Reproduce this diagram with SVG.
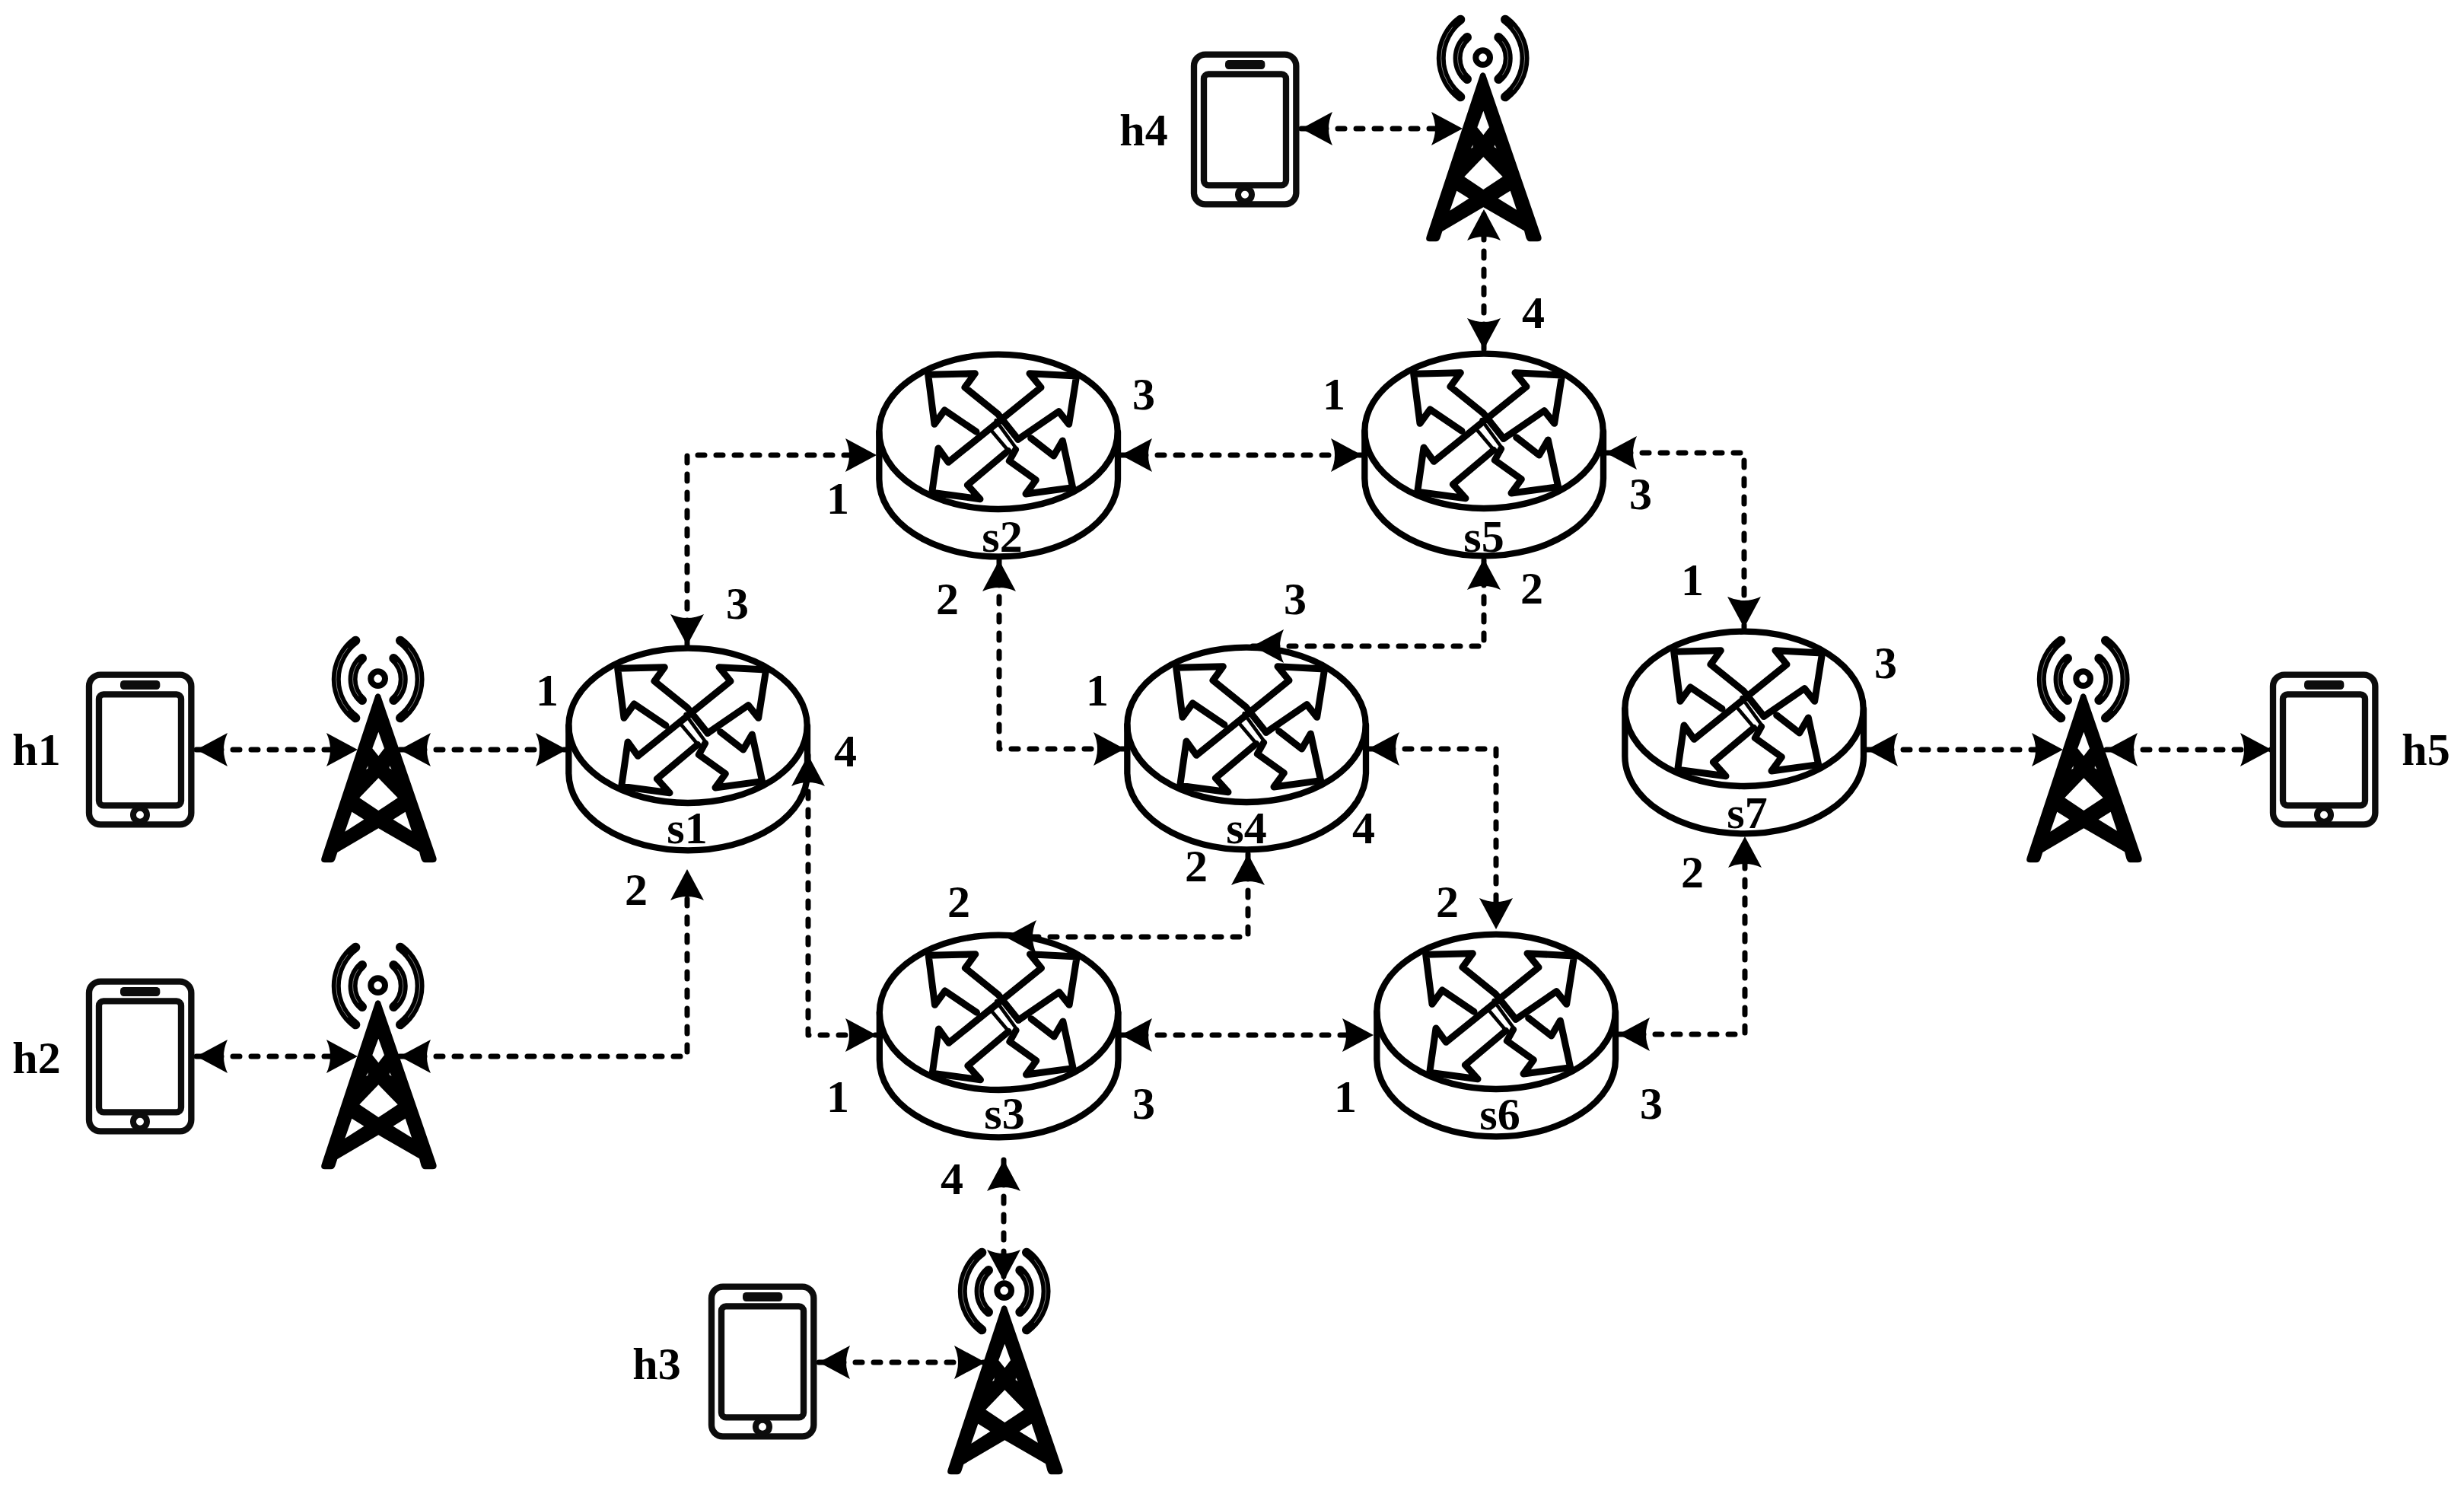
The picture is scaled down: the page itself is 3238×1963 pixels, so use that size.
<svg xmlns="http://www.w3.org/2000/svg" width="3238" height="1963" viewBox="0 0 3238 1963">
<style>
.lb{font-family:"Liberation Serif","Times New Roman",serif;font-weight:bold;font-size:60px;fill:#000;text-anchor:middle}
.cn{fill:none;stroke:#000;stroke-width:7;stroke-linecap:round;stroke-linejoin:round;stroke-dasharray:9 15;marker-start:url(#ah);marker-end:url(#ah)}
.r{fill:none;stroke:#000;stroke-width:25;stroke-linejoin:round;stroke-linecap:round}
.a{stroke-width:27}
.w{fill:none;stroke:#fff;stroke-width:1.5;stroke-dasharray:0 12 76 100}
</style>
<defs>
<marker id="ah" markerUnits="userSpaceOnUse" markerWidth="44" markerHeight="48" refX="41" refY="22" orient="auto-start-reverse" overflow="visible">
<path d="M41 22L0 0Q10 22 0 44Z" fill="#000"/>
</marker>
<g id="router" transform="translate(700 820) scale(.33333)">
<path class="r" d="M142 400V587A470 305 0 0 0 1083 587V400"/>
<ellipse class="r" cx="612" cy="400" rx="470" ry="305"/>
<path class="r a" d="M525 400L400 315L360 370L335 175L520 170L480 225L610 330L690 430"/>
<path class="r a" d="M740 425L830 495L865 435L905 620L720 645L760 590L655 515L680 470"/>
<path class="r a" d="M780 225L735 170L920 180L890 370L850 320L690 430M650 475L490 610L540 665L350 640L375 465L415 520L780 225"/>
<path class="r" style="stroke-width:14" d="M578 388L656 480M602 355L682 465"/>
</g>
<g id="tower" transform="translate(380 810) scale(.33333)">
<circle cx="350" cy="245" r="28" fill="none" stroke="#000" stroke-width="24"/>
<g fill="none" stroke="#000" stroke-linecap="round" stroke-width="36">
<path d="M288 165A110 110 0 0 0 288 330M412 165A110 110 0 0 1 412 330"/>
<path d="M262 95A190 190 0 0 0 262 400M438 95A190 190 0 0 1 438 400"/>
</g>
<path class="w" pathLength="100" d="M288 165A110 110 0 0 0 288 330"/>
<path class="w" pathLength="100" d="M412 165A110 110 0 0 1 412 330"/>
<path class="w" pathLength="100" d="M262 95A190 190 0 0 0 262 400"/>
<path class="w" pathLength="100" d="M438 95A190 190 0 0 1 438 400"/>
<path fill="#000" fill-rule="evenodd" d="M340 310Q350 298 360 310L580 950Q585 970 565 970L535 970Q525 970 520 955L513 928L352 835L190 930L182 955Q178 970 165 970L140 970Q122 970 128 950ZM352 455L375 520L352 550L328 520ZM352 637L428 715L352 765L277 715ZM247 770L295 800L220 848ZM458 770L410 800L483 845ZM303 602L311 589L310 600ZM396 589L404 602L395 598Z"/>
</g>
<g id="phone" transform="translate(80 860) scale(.33333)">
<rect x="111" y="80" width="403" height="590" rx="45" fill="none" stroke="#0c0c0c" stroke-width="25"/>
<rect x="150" y="157" width="324" height="438" rx="18" fill="none" stroke="#0c0c0c" stroke-width="25"/>
<rect x="234" y="102" width="157" height="36" rx="14" fill="#0c0c0c"/>
<circle cx="312" cy="632" r="27" fill="#fff" stroke="#0c0c0c" stroke-width="24"/>
</g>
</defs>
<rect width="3238" height="1963" fill="#fff"/>
<g id="connectors">
<path class="cn" d="M258 985H470"/>
<path class="cn" d="M525 985H745"/>
<path class="cn" d="M258 1388H470"/>
<path class="cn" d="M525 1388H903V1142"/>
<path class="cn" d="M903 848V598H1152"/>
<path class="cn" d="M1062 992V1360H1152"/>
<path class="cn" d="M1473 598H1790"/>
<path class="cn" d="M1313 736V984H1478"/>
<path class="cn" d="M1646 849H1950V734"/>
<path class="cn" d="M1640 1122V1231H1321"/>
<path class="cn" d="M1798 984H1966V1221"/>
<path class="cn" d="M1473 1360H1805"/>
<path class="cn" d="M2127 1359H2293V1099"/>
<path class="cn" d="M2110 595H2292V825"/>
<path class="cn" d="M2453 985H2711"/>
<path class="cn" d="M2768 985H2985"/>
<path class="cn" d="M1950 459V275"/>
<path class="cn" d="M1710 169H1922"/>
<path class="cn" d="M1319 1524V1683"/>
<path class="cn" d="M1076 1790H1295"/>
</g>
<g id="h1"><use href="#phone"/><text class="lb" x="48" y="1005">h1</text></g>
<g id="h2"><use href="#phone" transform="translate(0 403)"/><text class="lb" x="48" y="1410">h2</text></g>
<g id="h3"><use href="#phone" transform="translate(818 804)"/><text class="lb" x="863" y="1812">h3</text></g>
<g id="h4"><use href="#phone" transform="translate(1452 -815)"/><text class="lb" x="1503" y="191">h4</text></g>
<g id="h5"><use href="#phone" transform="translate(2870 0)"/><text class="lb" x="3188" y="1005">h5</text></g>
<g id="t1"><use href="#tower"/></g>
<g id="t2"><use href="#tower" transform="translate(0 403)"/></g>
<g id="t3"><use href="#tower" transform="translate(823 804)"/></g>
<g id="t4"><use href="#tower" transform="translate(1452 -816)"/></g>
<g id="t5"><use href="#tower" transform="translate(2241 0)"/></g>
<g id="s1"><use href="#router"/><text class="lb" x="903" y="1108">s1</text>
<text class="lb" x="719" y="927">1</text><text class="lb" x="969" y="813">3</text><text class="lb" x="1111" y="1007">4</text><text class="lb" x="836" y="1189">2</text></g>
<g id="s2"><use href="#router" transform="translate(408 -386)"/><text class="lb" x="1317" y="725">s2</text>
<text class="lb" x="1503" y="538">3</text><text class="lb" x="1101" y="675">1</text><text class="lb" x="1245" y="807">2</text></g>
<g id="s3"><use href="#router" transform="translate(408.500 377)"/><text class="lb" x="1320" y="1483">s3</text>
<text class="lb" x="1260" y="1205">2</text><text class="lb" x="1101" y="1461">1</text><text class="lb" x="1503" y="1470">3</text><text class="lb" x="1251" y="1569">4</text></g>
<g id="s4"><use href="#router" transform="translate(734 -1)"/><text class="lb" x="1638" y="1108">s4</text>
<text class="lb" x="1702" y="807">3</text><text class="lb" x="1442" y="927">1</text><text class="lb" x="1572" y="1158">2</text><text class="lb" x="1792" y="1108">4</text></g>
<g id="s5"><use href="#router" transform="translate(1046 -387)"/><text class="lb" x="1950" y="725">s5</text>
<text class="lb" x="1753" y="538">1</text><text class="lb" x="2015" y="431">4</text><text class="lb" x="2156" y="669">3</text><text class="lb" x="2013" y="793">2</text></g>
<g id="s6"><use href="#router" transform="translate(1062 376)"/><text class="lb" x="1971" y="1484">s6</text>
<text class="lb" x="1902" y="1205">2</text><text class="lb" x="1768" y="1461">1</text><text class="lb" x="2170" y="1470">3</text></g>
<g id="s7"><use href="#router" transform="translate(1388 -22)"/><text class="lb" x="2296" y="1088">s7</text>
<text class="lb" x="2224" y="782">1</text><text class="lb" x="2478" y="891">3</text><text class="lb" x="2224" y="1166">2</text></g>
</svg>
